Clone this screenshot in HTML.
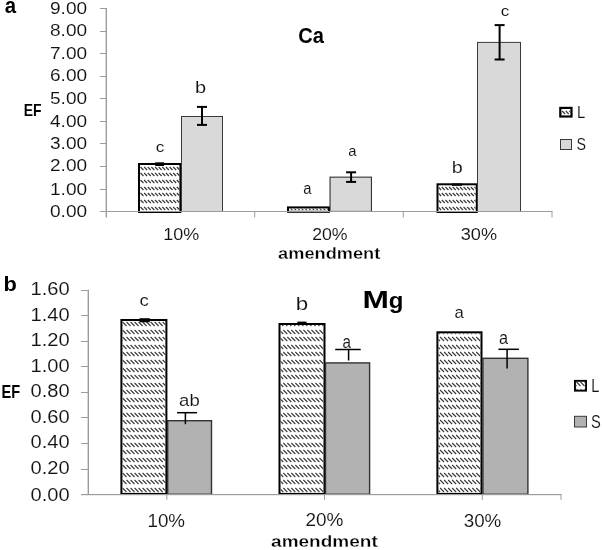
<!DOCTYPE html><html><head><meta charset="utf-8"><title>EF chart</title><style>html,body{margin:0;padding:0;background:#fff;width:602px;height:550px;overflow:hidden}svg{display:block;font-family:"Liberation Sans",sans-serif;filter:grayscale(1)}</style></head><body><svg width="602" height="550" viewBox="0 0 602 550" font-family="Liberation Sans, sans-serif" font-size="100"><rect width="602" height="550" fill="#fff"/><line x1="105.5" y1="8" x2="105.5" y2="217.5" stroke="#d8d8d8" stroke-width="1"/>
<line x1="106.5" y1="8" x2="106.5" y2="217.5" stroke="#9c9c9c" stroke-width="1"/>
<line x1="100" y1="8.5" x2="106.5" y2="8.5" stroke="#9c9c9c" stroke-width="1"/>
<line x1="100" y1="31.5" x2="106.5" y2="31.5" stroke="#9c9c9c" stroke-width="1"/>
<line x1="100" y1="53.5" x2="106.5" y2="53.5" stroke="#9c9c9c" stroke-width="1"/>
<line x1="100" y1="76.5" x2="106.5" y2="76.5" stroke="#9c9c9c" stroke-width="1"/>
<line x1="100" y1="98.5" x2="106.5" y2="98.5" stroke="#9c9c9c" stroke-width="1"/>
<line x1="100" y1="121.5" x2="106.5" y2="121.5" stroke="#9c9c9c" stroke-width="1"/>
<line x1="100" y1="143.5" x2="106.5" y2="143.5" stroke="#9c9c9c" stroke-width="1"/>
<line x1="100" y1="166.5" x2="106.5" y2="166.5" stroke="#9c9c9c" stroke-width="1"/>
<line x1="100" y1="189.5" x2="106.5" y2="189.5" stroke="#9c9c9c" stroke-width="1"/>
<line x1="100" y1="211.5" x2="106.5" y2="211.5" stroke="#9c9c9c" stroke-width="1"/>
<rect x="139.0" y="164.0" width="41.40" height="48.00" fill="#fff" stroke="#000" stroke-width="2"/><clipPath id="c1"><rect x="140" y="165" width="39.40" height="46.00"/></clipPath><path d="M136.87 167l3 3M140.50 167l3 3M144.13 167l3 3M147.76 167l3 3M151.39 167l3 3M155.02 167l3 3M158.65 167l3 3M162.28 167l3 3M165.91 167l3 3M169.54 167l3 3M173.17 167l3 3M176.80 167l3 3M180.43 167l3 3M136.87 173l3 3M140.50 173l3 3M144.13 173l3 3M147.76 173l3 3M151.39 173l3 3M155.02 173l3 3M158.65 173l3 3M162.28 173l3 3M165.91 173l3 3M169.54 173l3 3M173.17 173l3 3M176.80 173l3 3M180.43 173l3 3M136.87 180l3 3M140.50 180l3 3M144.13 180l3 3M147.76 180l3 3M151.39 180l3 3M155.02 180l3 3M158.65 180l3 3M162.28 180l3 3M165.91 180l3 3M169.54 180l3 3M173.17 180l3 3M176.80 180l3 3M180.43 180l3 3M136.87 187l3 3M140.50 187l3 3M144.13 187l3 3M147.76 187l3 3M151.39 187l3 3M155.02 187l3 3M158.65 187l3 3M162.28 187l3 3M165.91 187l3 3M169.54 187l3 3M173.17 187l3 3M176.80 187l3 3M180.43 187l3 3M136.87 193l3 3M140.50 193l3 3M144.13 193l3 3M147.76 193l3 3M151.39 193l3 3M155.02 193l3 3M158.65 193l3 3M162.28 193l3 3M165.91 193l3 3M169.54 193l3 3M173.17 193l3 3M176.80 193l3 3M180.43 193l3 3M136.87 200l3 3M140.50 200l3 3M144.13 200l3 3M147.76 200l3 3M151.39 200l3 3M155.02 200l3 3M158.65 200l3 3M162.28 200l3 3M165.91 200l3 3M169.54 200l3 3M173.17 200l3 3M176.80 200l3 3M180.43 200l3 3M136.87 207l3 3M140.50 207l3 3M144.13 207l3 3M147.76 207l3 3M151.39 207l3 3M155.02 207l3 3M158.65 207l3 3M162.28 207l3 3M165.91 207l3 3M169.54 207l3 3M173.17 207l3 3M176.80 207l3 3M180.43 207l3 3" stroke="#3a3a3a" stroke-width="1.2" clip-path="url(#c1)"/>
<rect x="181.5" y="116.5" width="41.00" height="95.00" fill="#d9d9d9" stroke="#3a3a3a" stroke-width="1"/>
<rect x="288.0" y="207.4" width="41.00" height="4.40" fill="#fff" stroke="#000" stroke-width="2"/><clipPath id="c2"><rect x="289" y="208.4" width="39.00" height="2.40"/></clipPath><path d="M285.70 207l3 3M289.33 207l3 3M292.96 207l3 3M296.59 207l3 3M300.22 207l3 3M303.85 207l3 3M307.48 207l3 3M311.11 207l3 3M314.74 207l3 3M318.37 207l3 3M322.00 207l3 3M325.63 207l3 3M329.26 207l3 3" stroke="#3a3a3a" stroke-width="1.2" clip-path="url(#c2)"/>
<rect x="330.05" y="177.15" width="41.40" height="34.30" fill="#d9d9d9" stroke="#333" stroke-width="1.1"/>
<rect x="437.5" y="184.3" width="39.30" height="27.70" fill="#fff" stroke="#000" stroke-width="2"/><clipPath id="c3"><rect x="438.5" y="185.3" width="37.30" height="25.70"/></clipPath><path d="M434.53 187l3 3M438.16 187l3 3M441.79 187l3 3M445.42 187l3 3M449.05 187l3 3M452.68 187l3 3M456.31 187l3 3M459.94 187l3 3M463.57 187l3 3M467.20 187l3 3M470.83 187l3 3M474.46 187l3 3M434.53 193l3 3M438.16 193l3 3M441.79 193l3 3M445.42 193l3 3M449.05 193l3 3M452.68 193l3 3M456.31 193l3 3M459.94 193l3 3M463.57 193l3 3M467.20 193l3 3M470.83 193l3 3M474.46 193l3 3M434.53 200l3 3M438.16 200l3 3M441.79 200l3 3M445.42 200l3 3M449.05 200l3 3M452.68 200l3 3M456.31 200l3 3M459.94 200l3 3M463.57 200l3 3M467.20 200l3 3M470.83 200l3 3M474.46 200l3 3M434.53 207l3 3M438.16 207l3 3M441.79 207l3 3M445.42 207l3 3M449.05 207l3 3M452.68 207l3 3M456.31 207l3 3M459.94 207l3 3M463.57 207l3 3M467.20 207l3 3M470.83 207l3 3M474.46 207l3 3" stroke="#3a3a3a" stroke-width="1.2" clip-path="url(#c3)"/>
<rect x="477.5" y="42.4" width="43.00" height="169.10" fill="#d9d9d9" stroke="#3a3a3a" stroke-width="1"/>
<line x1="100" y1="211.5" x2="552.5" y2="211.5" stroke="#9c9c9c" stroke-width="1"/>
<line x1="254.7" y1="211.5" x2="254.7" y2="217.5" stroke="#9c9c9c" stroke-width="1"/>
<line x1="403.3" y1="211.5" x2="403.3" y2="217.5" stroke="#9c9c9c" stroke-width="1"/>
<line x1="552" y1="211.5" x2="552" y2="217.5" stroke="#9c9c9c" stroke-width="1"/>
<line x1="202" y1="106.9" x2="202" y2="124.9" stroke="#000" stroke-width="2"/><line x1="197.0" y1="106.9" x2="207.0" y2="106.9" stroke="#000" stroke-width="2"/><line x1="197.0" y1="124.9" x2="207.0" y2="124.9" stroke="#000" stroke-width="2"/>
<line x1="351.1" y1="172.3" x2="351.1" y2="181.9" stroke="#000" stroke-width="2"/><line x1="346.1" y1="172.3" x2="356.1" y2="172.3" stroke="#000" stroke-width="2"/><line x1="346.1" y1="181.9" x2="356.1" y2="181.9" stroke="#000" stroke-width="2"/>
<line x1="499.6" y1="25.1" x2="499.6" y2="59.5" stroke="#000" stroke-width="2"/><line x1="494.6" y1="25.1" x2="504.6" y2="25.1" stroke="#000" stroke-width="2"/><line x1="494.6" y1="59.5" x2="504.6" y2="59.5" stroke="#000" stroke-width="2"/>
<rect x="155.2" y="162.3" width="8.90" height="3.70" fill="#000"/>
<rect x="452" y="183.5" width="10.00" height="2.30" fill="#000"/>
<text transform="matrix(0.20377 0 0 0.21636 4.789 13.484)" font-weight="bold" fill="#000">a</text>
<text transform="matrix(0.13932 0 0 0.15797 23.625 115.900)" font-weight="bold" fill="#000">EF</text>
<text transform="matrix(0.20081 0 0 0.21831 298.197 43.182)" font-weight="bold" fill="#000">Ca</text>
<text transform="matrix(0.17209 0 0 0.14364 155.662 151.706)" fill="#111" stroke="#fff" stroke-width="0.633">c</text>
<text transform="matrix(0.20000 0 0 0.15890 194.950 92.650)" fill="#111" stroke="#fff" stroke-width="0.557">b</text>
<text transform="matrix(0.14808 0 0 0.16182 303.358 194.088)" fill="#111" stroke="#fff" stroke-width="0.645">a</text>
<text transform="matrix(0.14808 0 0 0.15455 348.158 156.495)" fill="#111" stroke="#fff" stroke-width="0.661">a</text>
<text transform="matrix(0.19773 0 0 0.16712 451.866 172.950)" fill="#111" stroke="#fff" stroke-width="0.548">b</text>
<text transform="matrix(0.17209 0 0 0.14000 500.862 15.810)" fill="#111" stroke="#fff" stroke-width="0.641">c</text>
<text transform="matrix(0.17989 0 0 0.16761 163.211 239.782)" fill="#111" stroke="#fff" stroke-width="0.576">10%</text>
<text transform="matrix(0.17708 0 0 0.16901 312.165 239.981)" fill="#111" stroke="#fff" stroke-width="0.578">20%</text>
<text transform="matrix(0.18135 0 0 0.16197 460.725 239.788)" fill="#111" stroke="#fff" stroke-width="0.583">30%</text>
<text transform="matrix(0.14773 0 0 0.16087 576.968 117.750)" fill="#111" stroke="#fff" stroke-width="0.648">L</text>
<text transform="matrix(0.14211 0 0 0.16056 576.439 149.889)" fill="#111" stroke="#fff" stroke-width="0.661">S</text>
<text transform="matrix(0.18205 0 0 0.15811 278.104 258.892)" font-weight="bold" fill="#000" stroke="#fff" stroke-width="1.764">amendment</text>
<text transform="matrix(0.19091 0 0 0.16338 49.986 14.037)" fill="#111" stroke="#fff" stroke-width="0.565">9.00</text>
<text transform="matrix(0.19091 0 0 0.16338 49.986 35.737)" fill="#111" stroke="#fff" stroke-width="0.565">8.00</text>
<text transform="matrix(0.19091 0 0 0.16338 49.986 58.737)" fill="#111" stroke="#fff" stroke-width="0.565">7.00</text>
<text transform="matrix(0.19091 0 0 0.16338 49.986 81.437)" fill="#111" stroke="#fff" stroke-width="0.565">6.00</text>
<text transform="matrix(0.19091 0 0 0.16338 49.986 104.137)" fill="#111" stroke="#fff" stroke-width="0.565">5.00</text>
<text transform="matrix(0.19090 0 0 0.16338 49.987 126.937)" fill="#111" stroke="#fff" stroke-width="0.565">4.00</text>
<text transform="matrix(0.19091 0 0 0.16338 49.986 149.437)" fill="#111" stroke="#fff" stroke-width="0.565">3.00</text>
<text transform="matrix(0.19091 0 0 0.16338 49.986 171.337)" fill="#111" stroke="#fff" stroke-width="0.565">2.00</text>
<text transform="matrix(0.19092 0 0 0.16338 49.984 194.737)" fill="#111" stroke="#fff" stroke-width="0.564">1.00</text>
<text transform="matrix(0.19091 0 0 0.16338 49.986 217.037)" fill="#111" stroke="#fff" stroke-width="0.565">0.00</text>
<rect x="560.3000000000001" y="107.89999999999999" width="11.20" height="8.60" fill="#fff" stroke="#000" stroke-width="2.2"/><clipPath id="c4"><rect x="561.4000000000001" y="109.0" width="9.00" height="6.40"/></clipPath><path d="M558.47 111l3 3M562.10 111l3 3M565.73 111l3 3M569.36 111l3 3" stroke="#3a3a3a" stroke-width="1.2" clip-path="url(#c4)"/>
<rect x="560.5" y="139.5" width="11.00" height="10.00" fill="#d9d9d9" stroke="#3a3a3a" stroke-width="1"/>
<line x1="87.5" y1="290" x2="87.5" y2="494.5" stroke="#d8d8d8" stroke-width="1"/>
<line x1="88.5" y1="289.5" x2="88.5" y2="494.5" stroke="#9c9c9c" stroke-width="1"/>
<line x1="81" y1="290.5" x2="88.5" y2="290.5" stroke="#9c9c9c" stroke-width="1"/>
<line x1="81" y1="315.5" x2="88.5" y2="315.5" stroke="#9c9c9c" stroke-width="1"/>
<line x1="81" y1="341.5" x2="88.5" y2="341.5" stroke="#9c9c9c" stroke-width="1"/>
<line x1="81" y1="366.5" x2="88.5" y2="366.5" stroke="#9c9c9c" stroke-width="1"/>
<line x1="81" y1="392.5" x2="88.5" y2="392.5" stroke="#9c9c9c" stroke-width="1"/>
<line x1="81" y1="417.5" x2="88.5" y2="417.5" stroke="#9c9c9c" stroke-width="1"/>
<line x1="81" y1="443.5" x2="88.5" y2="443.5" stroke="#9c9c9c" stroke-width="1"/>
<line x1="81" y1="469.5" x2="88.5" y2="469.5" stroke="#9c9c9c" stroke-width="1"/>
<line x1="81" y1="494.5" x2="88.5" y2="494.5" stroke="#9c9c9c" stroke-width="1"/>
<rect x="121.4" y="320.0" width="45.00" height="173.90" fill="#fff" stroke="#000" stroke-width="2"/><clipPath id="c5"><rect x="122.4" y="321" width="43.00" height="171.90"/></clipPath><path d="M118.48 322l4 4M122.50 322l4 4M126.52 322l4 4M130.54 322l4 4M134.56 322l4 4M138.58 322l4 4M142.60 322l4 4M146.62 322l4 4M150.64 322l4 4M154.66 322l4 4M158.68 322l4 4M162.70 322l4 4M166.72 322l4 4M118.48 330l4 4M122.50 330l4 4M126.52 330l4 4M130.54 330l4 4M134.56 330l4 4M138.58 330l4 4M142.60 330l4 4M146.62 330l4 4M150.64 330l4 4M154.66 330l4 4M158.68 330l4 4M162.70 330l4 4M166.72 330l4 4M118.48 337l4 4M122.50 337l4 4M126.52 337l4 4M130.54 337l4 4M134.56 337l4 4M138.58 337l4 4M142.60 337l4 4M146.62 337l4 4M150.64 337l4 4M154.66 337l4 4M158.68 337l4 4M162.70 337l4 4M166.72 337l4 4M118.48 345l4 4M122.50 345l4 4M126.52 345l4 4M130.54 345l4 4M134.56 345l4 4M138.58 345l4 4M142.60 345l4 4M146.62 345l4 4M150.64 345l4 4M154.66 345l4 4M158.68 345l4 4M162.70 345l4 4M166.72 345l4 4M118.48 352l4 4M122.50 352l4 4M126.52 352l4 4M130.54 352l4 4M134.56 352l4 4M138.58 352l4 4M142.60 352l4 4M146.62 352l4 4M150.64 352l4 4M154.66 352l4 4M158.68 352l4 4M162.70 352l4 4M166.72 352l4 4M118.48 360l4 4M122.50 360l4 4M126.52 360l4 4M130.54 360l4 4M134.56 360l4 4M138.58 360l4 4M142.60 360l4 4M146.62 360l4 4M150.64 360l4 4M154.66 360l4 4M158.68 360l4 4M162.70 360l4 4M166.72 360l4 4M118.48 368l4 4M122.50 368l4 4M126.52 368l4 4M130.54 368l4 4M134.56 368l4 4M138.58 368l4 4M142.60 368l4 4M146.62 368l4 4M150.64 368l4 4M154.66 368l4 4M158.68 368l4 4M162.70 368l4 4M166.72 368l4 4M118.48 375l4 4M122.50 375l4 4M126.52 375l4 4M130.54 375l4 4M134.56 375l4 4M138.58 375l4 4M142.60 375l4 4M146.62 375l4 4M150.64 375l4 4M154.66 375l4 4M158.68 375l4 4M162.70 375l4 4M166.72 375l4 4M118.48 383l4 4M122.50 383l4 4M126.52 383l4 4M130.54 383l4 4M134.56 383l4 4M138.58 383l4 4M142.60 383l4 4M146.62 383l4 4M150.64 383l4 4M154.66 383l4 4M158.68 383l4 4M162.70 383l4 4M166.72 383l4 4M118.48 390l4 4M122.50 390l4 4M126.52 390l4 4M130.54 390l4 4M134.56 390l4 4M138.58 390l4 4M142.60 390l4 4M146.62 390l4 4M150.64 390l4 4M154.66 390l4 4M158.68 390l4 4M162.70 390l4 4M166.72 390l4 4M118.48 398l4 4M122.50 398l4 4M126.52 398l4 4M130.54 398l4 4M134.56 398l4 4M138.58 398l4 4M142.60 398l4 4M146.62 398l4 4M150.64 398l4 4M154.66 398l4 4M158.68 398l4 4M162.70 398l4 4M166.72 398l4 4M118.48 405l4 4M122.50 405l4 4M126.52 405l4 4M130.54 405l4 4M134.56 405l4 4M138.58 405l4 4M142.60 405l4 4M146.62 405l4 4M150.64 405l4 4M154.66 405l4 4M158.68 405l4 4M162.70 405l4 4M166.72 405l4 4M118.48 413l4 4M122.50 413l4 4M126.52 413l4 4M130.54 413l4 4M134.56 413l4 4M138.58 413l4 4M142.60 413l4 4M146.62 413l4 4M150.64 413l4 4M154.66 413l4 4M158.68 413l4 4M162.70 413l4 4M166.72 413l4 4M118.48 420l4 4M122.50 420l4 4M126.52 420l4 4M130.54 420l4 4M134.56 420l4 4M138.58 420l4 4M142.60 420l4 4M146.62 420l4 4M150.64 420l4 4M154.66 420l4 4M158.68 420l4 4M162.70 420l4 4M166.72 420l4 4M118.48 428l4 4M122.50 428l4 4M126.52 428l4 4M130.54 428l4 4M134.56 428l4 4M138.58 428l4 4M142.60 428l4 4M146.62 428l4 4M150.64 428l4 4M154.66 428l4 4M158.68 428l4 4M162.70 428l4 4M166.72 428l4 4M118.48 435l4 4M122.50 435l4 4M126.52 435l4 4M130.54 435l4 4M134.56 435l4 4M138.58 435l4 4M142.60 435l4 4M146.62 435l4 4M150.64 435l4 4M154.66 435l4 4M158.68 435l4 4M162.70 435l4 4M166.72 435l4 4M118.48 443l4 4M122.50 443l4 4M126.52 443l4 4M130.54 443l4 4M134.56 443l4 4M138.58 443l4 4M142.60 443l4 4M146.62 443l4 4M150.64 443l4 4M154.66 443l4 4M158.68 443l4 4M162.70 443l4 4M166.72 443l4 4M118.48 450l4 4M122.50 450l4 4M126.52 450l4 4M130.54 450l4 4M134.56 450l4 4M138.58 450l4 4M142.60 450l4 4M146.62 450l4 4M150.64 450l4 4M154.66 450l4 4M158.68 450l4 4M162.70 450l4 4M166.72 450l4 4M118.48 458l4 4M122.50 458l4 4M126.52 458l4 4M130.54 458l4 4M134.56 458l4 4M138.58 458l4 4M142.60 458l4 4M146.62 458l4 4M150.64 458l4 4M154.66 458l4 4M158.68 458l4 4M162.70 458l4 4M166.72 458l4 4M118.48 465l4 4M122.50 465l4 4M126.52 465l4 4M130.54 465l4 4M134.56 465l4 4M138.58 465l4 4M142.60 465l4 4M146.62 465l4 4M150.64 465l4 4M154.66 465l4 4M158.68 465l4 4M162.70 465l4 4M166.72 465l4 4M118.48 473l4 4M122.50 473l4 4M126.52 473l4 4M130.54 473l4 4M134.56 473l4 4M138.58 473l4 4M142.60 473l4 4M146.62 473l4 4M150.64 473l4 4M154.66 473l4 4M158.68 473l4 4M162.70 473l4 4M166.72 473l4 4M118.48 480l4 4M122.50 480l4 4M126.52 480l4 4M130.54 480l4 4M134.56 480l4 4M138.58 480l4 4M142.60 480l4 4M146.62 480l4 4M150.64 480l4 4M154.66 480l4 4M158.68 480l4 4M162.70 480l4 4M166.72 480l4 4M118.48 488l4 4M122.50 488l4 4M126.52 488l4 4M130.54 488l4 4M134.56 488l4 4M138.58 488l4 4M142.60 488l4 4M146.62 488l4 4M150.64 488l4 4M154.66 488l4 4M158.68 488l4 4M162.70 488l4 4M166.72 488l4 4" stroke="#3a3a3a" stroke-width="1.1" clip-path="url(#c5)"/>
<rect x="167.7" y="420.7" width="43.80" height="73.60" fill="#b2b2b2" stroke="#333" stroke-width="1.4"/>
<rect x="279.5" y="324.0" width="45.00" height="169.90" fill="#fff" stroke="#000" stroke-width="2"/><clipPath id="c6"><rect x="280.5" y="325" width="43.00" height="167.90"/></clipPath><path d="M275.26 322l4 4M279.28 322l4 4M283.30 322l4 4M287.32 322l4 4M291.34 322l4 4M295.36 322l4 4M299.38 322l4 4M303.40 322l4 4M307.42 322l4 4M311.44 322l4 4M315.46 322l4 4M319.48 322l4 4M323.50 322l4 4M275.26 330l4 4M279.28 330l4 4M283.30 330l4 4M287.32 330l4 4M291.34 330l4 4M295.36 330l4 4M299.38 330l4 4M303.40 330l4 4M307.42 330l4 4M311.44 330l4 4M315.46 330l4 4M319.48 330l4 4M323.50 330l4 4M275.26 337l4 4M279.28 337l4 4M283.30 337l4 4M287.32 337l4 4M291.34 337l4 4M295.36 337l4 4M299.38 337l4 4M303.40 337l4 4M307.42 337l4 4M311.44 337l4 4M315.46 337l4 4M319.48 337l4 4M323.50 337l4 4M275.26 345l4 4M279.28 345l4 4M283.30 345l4 4M287.32 345l4 4M291.34 345l4 4M295.36 345l4 4M299.38 345l4 4M303.40 345l4 4M307.42 345l4 4M311.44 345l4 4M315.46 345l4 4M319.48 345l4 4M323.50 345l4 4M275.26 352l4 4M279.28 352l4 4M283.30 352l4 4M287.32 352l4 4M291.34 352l4 4M295.36 352l4 4M299.38 352l4 4M303.40 352l4 4M307.42 352l4 4M311.44 352l4 4M315.46 352l4 4M319.48 352l4 4M323.50 352l4 4M275.26 360l4 4M279.28 360l4 4M283.30 360l4 4M287.32 360l4 4M291.34 360l4 4M295.36 360l4 4M299.38 360l4 4M303.40 360l4 4M307.42 360l4 4M311.44 360l4 4M315.46 360l4 4M319.48 360l4 4M323.50 360l4 4M275.26 368l4 4M279.28 368l4 4M283.30 368l4 4M287.32 368l4 4M291.34 368l4 4M295.36 368l4 4M299.38 368l4 4M303.40 368l4 4M307.42 368l4 4M311.44 368l4 4M315.46 368l4 4M319.48 368l4 4M323.50 368l4 4M275.26 375l4 4M279.28 375l4 4M283.30 375l4 4M287.32 375l4 4M291.34 375l4 4M295.36 375l4 4M299.38 375l4 4M303.40 375l4 4M307.42 375l4 4M311.44 375l4 4M315.46 375l4 4M319.48 375l4 4M323.50 375l4 4M275.26 383l4 4M279.28 383l4 4M283.30 383l4 4M287.32 383l4 4M291.34 383l4 4M295.36 383l4 4M299.38 383l4 4M303.40 383l4 4M307.42 383l4 4M311.44 383l4 4M315.46 383l4 4M319.48 383l4 4M323.50 383l4 4M275.26 390l4 4M279.28 390l4 4M283.30 390l4 4M287.32 390l4 4M291.34 390l4 4M295.36 390l4 4M299.38 390l4 4M303.40 390l4 4M307.42 390l4 4M311.44 390l4 4M315.46 390l4 4M319.48 390l4 4M323.50 390l4 4M275.26 398l4 4M279.28 398l4 4M283.30 398l4 4M287.32 398l4 4M291.34 398l4 4M295.36 398l4 4M299.38 398l4 4M303.40 398l4 4M307.42 398l4 4M311.44 398l4 4M315.46 398l4 4M319.48 398l4 4M323.50 398l4 4M275.26 405l4 4M279.28 405l4 4M283.30 405l4 4M287.32 405l4 4M291.34 405l4 4M295.36 405l4 4M299.38 405l4 4M303.40 405l4 4M307.42 405l4 4M311.44 405l4 4M315.46 405l4 4M319.48 405l4 4M323.50 405l4 4M275.26 413l4 4M279.28 413l4 4M283.30 413l4 4M287.32 413l4 4M291.34 413l4 4M295.36 413l4 4M299.38 413l4 4M303.40 413l4 4M307.42 413l4 4M311.44 413l4 4M315.46 413l4 4M319.48 413l4 4M323.50 413l4 4M275.26 420l4 4M279.28 420l4 4M283.30 420l4 4M287.32 420l4 4M291.34 420l4 4M295.36 420l4 4M299.38 420l4 4M303.40 420l4 4M307.42 420l4 4M311.44 420l4 4M315.46 420l4 4M319.48 420l4 4M323.50 420l4 4M275.26 428l4 4M279.28 428l4 4M283.30 428l4 4M287.32 428l4 4M291.34 428l4 4M295.36 428l4 4M299.38 428l4 4M303.40 428l4 4M307.42 428l4 4M311.44 428l4 4M315.46 428l4 4M319.48 428l4 4M323.50 428l4 4M275.26 435l4 4M279.28 435l4 4M283.30 435l4 4M287.32 435l4 4M291.34 435l4 4M295.36 435l4 4M299.38 435l4 4M303.40 435l4 4M307.42 435l4 4M311.44 435l4 4M315.46 435l4 4M319.48 435l4 4M323.50 435l4 4M275.26 443l4 4M279.28 443l4 4M283.30 443l4 4M287.32 443l4 4M291.34 443l4 4M295.36 443l4 4M299.38 443l4 4M303.40 443l4 4M307.42 443l4 4M311.44 443l4 4M315.46 443l4 4M319.48 443l4 4M323.50 443l4 4M275.26 450l4 4M279.28 450l4 4M283.30 450l4 4M287.32 450l4 4M291.34 450l4 4M295.36 450l4 4M299.38 450l4 4M303.40 450l4 4M307.42 450l4 4M311.44 450l4 4M315.46 450l4 4M319.48 450l4 4M323.50 450l4 4M275.26 458l4 4M279.28 458l4 4M283.30 458l4 4M287.32 458l4 4M291.34 458l4 4M295.36 458l4 4M299.38 458l4 4M303.40 458l4 4M307.42 458l4 4M311.44 458l4 4M315.46 458l4 4M319.48 458l4 4M323.50 458l4 4M275.26 465l4 4M279.28 465l4 4M283.30 465l4 4M287.32 465l4 4M291.34 465l4 4M295.36 465l4 4M299.38 465l4 4M303.40 465l4 4M307.42 465l4 4M311.44 465l4 4M315.46 465l4 4M319.48 465l4 4M323.50 465l4 4M275.26 473l4 4M279.28 473l4 4M283.30 473l4 4M287.32 473l4 4M291.34 473l4 4M295.36 473l4 4M299.38 473l4 4M303.40 473l4 4M307.42 473l4 4M311.44 473l4 4M315.46 473l4 4M319.48 473l4 4M323.50 473l4 4M275.26 480l4 4M279.28 480l4 4M283.30 480l4 4M287.32 480l4 4M291.34 480l4 4M295.36 480l4 4M299.38 480l4 4M303.40 480l4 4M307.42 480l4 4M311.44 480l4 4M315.46 480l4 4M319.48 480l4 4M323.50 480l4 4M275.26 488l4 4M279.28 488l4 4M283.30 488l4 4M287.32 488l4 4M291.34 488l4 4M295.36 488l4 4M299.38 488l4 4M303.40 488l4 4M307.42 488l4 4M311.44 488l4 4M315.46 488l4 4M319.48 488l4 4M323.50 488l4 4" stroke="#3a3a3a" stroke-width="1.1" clip-path="url(#c6)"/>
<rect x="325.5" y="362.9" width="44.10" height="131.40" fill="#b2b2b2" stroke="#333" stroke-width="1.4"/>
<rect x="437.4" y="332.3" width="44.10" height="161.60" fill="#fff" stroke="#000" stroke-width="2"/><clipPath id="c7"><rect x="438.4" y="333.3" width="42.10" height="159.60"/></clipPath><path d="M436.06 330l4 4M440.08 330l4 4M444.10 330l4 4M448.12 330l4 4M452.14 330l4 4M456.16 330l4 4M460.18 330l4 4M464.20 330l4 4M468.22 330l4 4M472.24 330l4 4M476.26 330l4 4M480.28 330l4 4M436.06 337l4 4M440.08 337l4 4M444.10 337l4 4M448.12 337l4 4M452.14 337l4 4M456.16 337l4 4M460.18 337l4 4M464.20 337l4 4M468.22 337l4 4M472.24 337l4 4M476.26 337l4 4M480.28 337l4 4M436.06 345l4 4M440.08 345l4 4M444.10 345l4 4M448.12 345l4 4M452.14 345l4 4M456.16 345l4 4M460.18 345l4 4M464.20 345l4 4M468.22 345l4 4M472.24 345l4 4M476.26 345l4 4M480.28 345l4 4M436.06 352l4 4M440.08 352l4 4M444.10 352l4 4M448.12 352l4 4M452.14 352l4 4M456.16 352l4 4M460.18 352l4 4M464.20 352l4 4M468.22 352l4 4M472.24 352l4 4M476.26 352l4 4M480.28 352l4 4M436.06 360l4 4M440.08 360l4 4M444.10 360l4 4M448.12 360l4 4M452.14 360l4 4M456.16 360l4 4M460.18 360l4 4M464.20 360l4 4M468.22 360l4 4M472.24 360l4 4M476.26 360l4 4M480.28 360l4 4M436.06 368l4 4M440.08 368l4 4M444.10 368l4 4M448.12 368l4 4M452.14 368l4 4M456.16 368l4 4M460.18 368l4 4M464.20 368l4 4M468.22 368l4 4M472.24 368l4 4M476.26 368l4 4M480.28 368l4 4M436.06 375l4 4M440.08 375l4 4M444.10 375l4 4M448.12 375l4 4M452.14 375l4 4M456.16 375l4 4M460.18 375l4 4M464.20 375l4 4M468.22 375l4 4M472.24 375l4 4M476.26 375l4 4M480.28 375l4 4M436.06 383l4 4M440.08 383l4 4M444.10 383l4 4M448.12 383l4 4M452.14 383l4 4M456.16 383l4 4M460.18 383l4 4M464.20 383l4 4M468.22 383l4 4M472.24 383l4 4M476.26 383l4 4M480.28 383l4 4M436.06 390l4 4M440.08 390l4 4M444.10 390l4 4M448.12 390l4 4M452.14 390l4 4M456.16 390l4 4M460.18 390l4 4M464.20 390l4 4M468.22 390l4 4M472.24 390l4 4M476.26 390l4 4M480.28 390l4 4M436.06 398l4 4M440.08 398l4 4M444.10 398l4 4M448.12 398l4 4M452.14 398l4 4M456.16 398l4 4M460.18 398l4 4M464.20 398l4 4M468.22 398l4 4M472.24 398l4 4M476.26 398l4 4M480.28 398l4 4M436.06 405l4 4M440.08 405l4 4M444.10 405l4 4M448.12 405l4 4M452.14 405l4 4M456.16 405l4 4M460.18 405l4 4M464.20 405l4 4M468.22 405l4 4M472.24 405l4 4M476.26 405l4 4M480.28 405l4 4M436.06 413l4 4M440.08 413l4 4M444.10 413l4 4M448.12 413l4 4M452.14 413l4 4M456.16 413l4 4M460.18 413l4 4M464.20 413l4 4M468.22 413l4 4M472.24 413l4 4M476.26 413l4 4M480.28 413l4 4M436.06 420l4 4M440.08 420l4 4M444.10 420l4 4M448.12 420l4 4M452.14 420l4 4M456.16 420l4 4M460.18 420l4 4M464.20 420l4 4M468.22 420l4 4M472.24 420l4 4M476.26 420l4 4M480.28 420l4 4M436.06 428l4 4M440.08 428l4 4M444.10 428l4 4M448.12 428l4 4M452.14 428l4 4M456.16 428l4 4M460.18 428l4 4M464.20 428l4 4M468.22 428l4 4M472.24 428l4 4M476.26 428l4 4M480.28 428l4 4M436.06 435l4 4M440.08 435l4 4M444.10 435l4 4M448.12 435l4 4M452.14 435l4 4M456.16 435l4 4M460.18 435l4 4M464.20 435l4 4M468.22 435l4 4M472.24 435l4 4M476.26 435l4 4M480.28 435l4 4M436.06 443l4 4M440.08 443l4 4M444.10 443l4 4M448.12 443l4 4M452.14 443l4 4M456.16 443l4 4M460.18 443l4 4M464.20 443l4 4M468.22 443l4 4M472.24 443l4 4M476.26 443l4 4M480.28 443l4 4M436.06 450l4 4M440.08 450l4 4M444.10 450l4 4M448.12 450l4 4M452.14 450l4 4M456.16 450l4 4M460.18 450l4 4M464.20 450l4 4M468.22 450l4 4M472.24 450l4 4M476.26 450l4 4M480.28 450l4 4M436.06 458l4 4M440.08 458l4 4M444.10 458l4 4M448.12 458l4 4M452.14 458l4 4M456.16 458l4 4M460.18 458l4 4M464.20 458l4 4M468.22 458l4 4M472.24 458l4 4M476.26 458l4 4M480.28 458l4 4M436.06 465l4 4M440.08 465l4 4M444.10 465l4 4M448.12 465l4 4M452.14 465l4 4M456.16 465l4 4M460.18 465l4 4M464.20 465l4 4M468.22 465l4 4M472.24 465l4 4M476.26 465l4 4M480.28 465l4 4M436.06 473l4 4M440.08 473l4 4M444.10 473l4 4M448.12 473l4 4M452.14 473l4 4M456.16 473l4 4M460.18 473l4 4M464.20 473l4 4M468.22 473l4 4M472.24 473l4 4M476.26 473l4 4M480.28 473l4 4M436.06 480l4 4M440.08 480l4 4M444.10 480l4 4M448.12 480l4 4M452.14 480l4 4M456.16 480l4 4M460.18 480l4 4M464.20 480l4 4M468.22 480l4 4M472.24 480l4 4M476.26 480l4 4M480.28 480l4 4M436.06 488l4 4M440.08 488l4 4M444.10 488l4 4M448.12 488l4 4M452.14 488l4 4M456.16 488l4 4M460.18 488l4 4M464.20 488l4 4M468.22 488l4 4M472.24 488l4 4M476.26 488l4 4M480.28 488l4 4" stroke="#3a3a3a" stroke-width="1.1" clip-path="url(#c7)"/>
<rect x="482.9" y="358.3" width="45.00" height="136.00" fill="#b2b2b2" stroke="#333" stroke-width="1.4"/>
<line x1="81" y1="495.5" x2="561.5" y2="495.5" stroke="#ececec" stroke-width="1"/>
<line x1="81" y1="494.5" x2="561.5" y2="494.5" stroke="#9c9c9c" stroke-width="1"/>
<line x1="166.8" y1="494.5" x2="166.8" y2="499.8" stroke="#9c9c9c" stroke-width="1"/>
<line x1="324.5" y1="494.5" x2="324.5" y2="499.8" stroke="#9c9c9c" stroke-width="1"/>
<line x1="482.3" y1="494.5" x2="482.3" y2="499.8" stroke="#9c9c9c" stroke-width="1"/>
<line x1="561" y1="494.5" x2="561" y2="499.8" stroke="#9c9c9c" stroke-width="1"/>
<rect x="139.5" y="318.2" width="10.30" height="4.10" fill="#000"/>
<rect x="297.4" y="321.6" width="9.10" height="1.60" fill="#000"/>
<line x1="185.4" y1="412.7" x2="185.4" y2="424.2" stroke="#000" stroke-width="1.5"/>
<line x1="177" y1="412.7" x2="197" y2="412.7" stroke="#000" stroke-width="1.5"/>
<line x1="348.6" y1="349.5" x2="348.6" y2="360.5" stroke="#000" stroke-width="1.5"/>
<line x1="335.2" y1="349.5" x2="360.7" y2="349.5" stroke="#000" stroke-width="1.5"/>
<line x1="507.1" y1="349.3" x2="507.1" y2="368.5" stroke="#000" stroke-width="1.5"/>
<line x1="498.4" y1="349.3" x2="518.9" y2="349.3" stroke="#000" stroke-width="1.5"/>
<text transform="matrix(0.21800 0 0 0.20000 3.474 291.200)" font-weight="bold" fill="#000">b</text>
<text transform="matrix(0.14615 0 0 0.17826 1.477 398.300)" font-weight="bold" fill="#000">EF</text>
<text transform="matrix(0.31714 0 0 0.23478 362.580 308.200)" font-weight="bold" fill="#000">M</text>
<text transform="matrix(0.24000 0 0 0.22533 388.840 308.068)" font-weight="bold" fill="#000">g</text>
<text transform="matrix(0.18605 0 0 0.16909 139.406 305.681)" fill="#111" stroke="#fff" stroke-width="0.563">c</text>
<text transform="matrix(0.18544 0 0 0.16351 179.108 406.386)" fill="#111" stroke="#fff" stroke-width="0.573">ab</text>
<text transform="matrix(0.22273 0 0 0.18219 295.791 309.650)" fill="#111" stroke="#fff" stroke-width="0.494">b</text>
<text transform="matrix(0.15192 0 0 0.18182 342.442 348.368)" fill="#111" stroke="#fff" stroke-width="0.599">a</text>
<text transform="matrix(0.16731 0 0 0.16727 454.481 317.783)" fill="#111" stroke="#fff" stroke-width="0.598">a</text>
<text transform="matrix(0.16346 0 0 0.17455 499.096 343.775)" fill="#111" stroke="#fff" stroke-width="0.592">a</text>
<text transform="matrix(0.18783 0 0 0.18310 147.447 526.567)" fill="#111" stroke="#fff" stroke-width="0.539">10%</text>
<text transform="matrix(0.18958 0 0 0.17746 305.402 526.473)" fill="#111" stroke="#fff" stroke-width="0.545">20%</text>
<text transform="matrix(0.18808 0 0 0.18732 463.698 526.563)" fill="#111" stroke="#fff" stroke-width="0.533">30%</text>
<text transform="matrix(0.14545 0 0 0.18116 591.286 391.950)" fill="#111" stroke="#fff" stroke-width="0.612">L</text>
<text transform="matrix(0.14737 0 0 0.18028 591.013 427.770)" fill="#111" stroke="#fff" stroke-width="0.610">S</text>
<text transform="matrix(0.19013 0 0 0.16216 271.080 546.688)" font-weight="bold" fill="#000" stroke="#fff" stroke-width="1.703">amendment</text>
<text transform="matrix(0.20108 0 0 0.17606 30.543 295.174)" fill="#111" stroke="#fff" stroke-width="0.530">1.60</text>
<text transform="matrix(0.20108 0 0 0.17606 30.543 320.674)" fill="#111" stroke="#fff" stroke-width="0.530">1.40</text>
<text transform="matrix(0.20108 0 0 0.17606 30.543 346.274)" fill="#111" stroke="#fff" stroke-width="0.530">1.20</text>
<text transform="matrix(0.20108 0 0 0.17606 30.543 371.774)" fill="#111" stroke="#fff" stroke-width="0.530">1.00</text>
<text transform="matrix(0.20107 0 0 0.17606 30.546 397.274)" fill="#111" stroke="#fff" stroke-width="0.530">0.80</text>
<text transform="matrix(0.20107 0 0 0.17606 30.546 422.774)" fill="#111" stroke="#fff" stroke-width="0.530">0.60</text>
<text transform="matrix(0.20107 0 0 0.17606 30.546 448.374)" fill="#111" stroke="#fff" stroke-width="0.530">0.40</text>
<text transform="matrix(0.20107 0 0 0.17606 30.546 474.074)" fill="#111" stroke="#fff" stroke-width="0.530">0.20</text>
<text transform="matrix(0.20107 0 0 0.17606 30.546 500.674)" fill="#111" stroke="#fff" stroke-width="0.530">0.00</text>
<rect x="574.95" y="380.84999999999997" width="11.10" height="9.80" fill="#fff" stroke="#000" stroke-width="1.9"/><clipPath id="c8"><rect x="575.9" y="381.79999999999995" width="9.20" height="7.90"/></clipPath><path d="M572.48 382l4 4M576.50 382l4 4M580.52 382l4 4M584.54 382l4 4M572.48 389l4 4M576.50 389l4 4M580.52 389l4 4M584.54 389l4 4" stroke="#3a3a3a" stroke-width="1.1" clip-path="url(#c8)"/>
<rect x="574.5" y="416.3" width="12.00" height="10.70" fill="#b2b2b2" stroke="#3a3a3a" stroke-width="1"/></svg></body></html>
